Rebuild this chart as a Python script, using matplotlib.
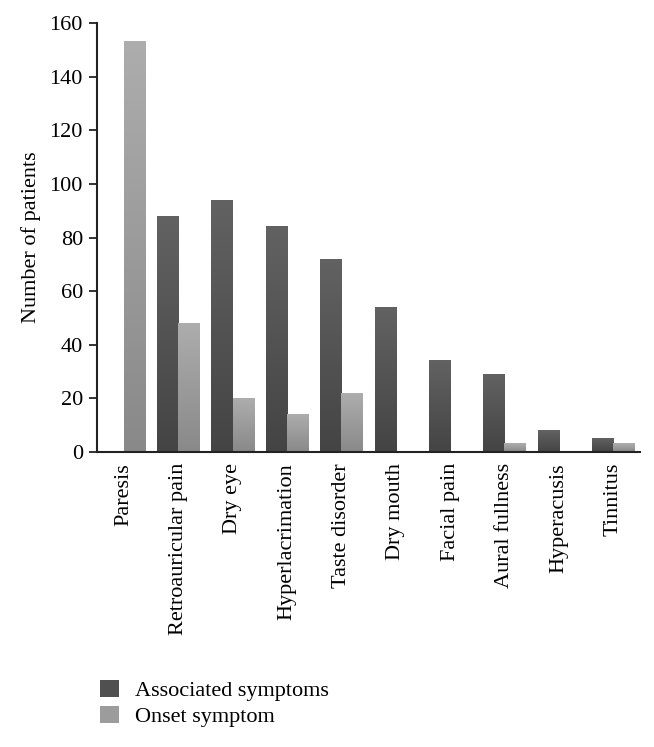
import numpy as np
import matplotlib
matplotlib.use("Agg")
import matplotlib.pyplot as plt
from matplotlib.colors import LinearSegmentedColormap
from matplotlib.patches import Patch

plt.rcParams['font.family'] = ['Liberation Serif', 'DejaVu Serif']

symptoms = ['Paresis', 'Retroauricular pain', 'Dry eye', 'Hyperlacrimation',
            'Taste disorder', 'Dry mouth', 'Facial pain', 'Aural fullness',
            'Hyperacusis', 'Tinnitus']
associated = [0, 88, 94, 84, 72, 54, 34, 29, 8, 5]
onset = [153, 48, 20, 14, 22, 0, 0, 3, 0, 3]
yticks = [0, 20, 40, 60, 80, 100, 120, 140, 160]

# bottom -> top shades for the gradient fill
dark_cmap = LinearSegmentedColormap.from_list('dark', ['#444444', '#626262'])
light_cmap = LinearSegmentedColormap.from_list('light', ['#898989', '#adadad'])

fig = plt.figure(figsize=(6.54, 7.47), dpi=100)
ax = fig.add_axes([0.148, 0.395, 0.831, 0.574])

x = np.arange(len(symptoms))
w = 0.39
grad = np.linspace(0, 1, 256).reshape(-1, 1)


def gradient_bars(xs, vals, cmap):
    bars = ax.bar(xs, vals, w, color='none', edgecolor='none')
    for b in bars:
        h = b.get_height()
        if h <= 0:
            continue
        x0 = b.get_x()
        ax.imshow(grad, extent=[x0, x0 + b.get_width(), 0, h], origin='lower',
                  cmap=cmap, aspect='auto', zorder=2)


gradient_bars(x - w / 2, associated, dark_cmap)
gradient_bars(x + w / 2, onset, light_cmap)

ax.set_xlim(-0.5, len(symptoms) - 0.5)
ax.set_ylim(0, 160)
ax.set_yticks(yticks)
ax.set_xticks(x)
ax.set_xticklabels(symptoms, rotation=90, fontsize=16)
ax.tick_params(axis='x', length=0, pad=8)
ax.tick_params(axis='y', labelsize=16, length=6, width=1.3, color='#222222', pad=4)
ax.set_ylabel('Number of patients', fontsize=16, labelpad=6)

for s in ['top', 'right']:
    ax.spines[s].set_visible(False)
for s in ['left', 'bottom']:
    ax.spines[s].set_linewidth(1.5)
    ax.spines[s].set_color('#222222')

handles = [Patch(facecolor='#505050', edgecolor='none', label='Associated symptoms'),
           Patch(facecolor='#9c9c9c', edgecolor='none', label='Onset symptom')]
fig.legend(handles=handles, loc='upper left', bbox_to_anchor=(0.153, 0.090),
           frameon=False, fontsize=16, handlelength=0.85, handleheight=0.85,
           handletextpad=0.7, labelspacing=0.2, borderaxespad=0, borderpad=0)

fig.savefig('out.png', dpi=100)
